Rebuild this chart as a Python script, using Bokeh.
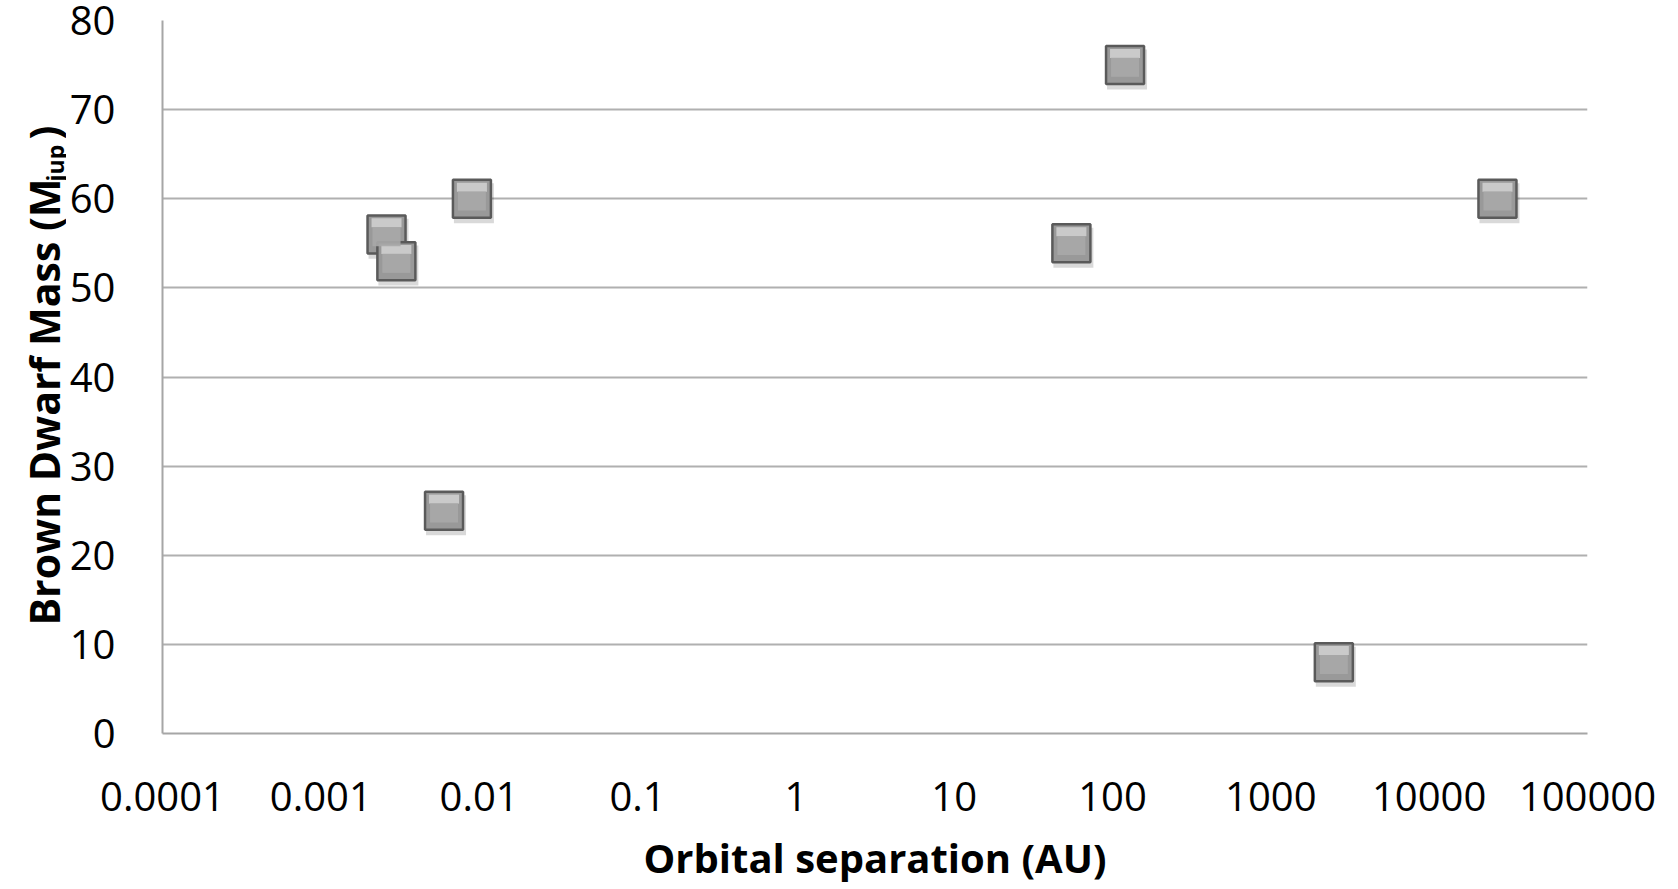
import math
from bokeh.plotting import figure
from bokeh.layouts import row
from bokeh.models import Range1d, FixedTicker, CustomJSTickFormatter, Label, ColumnDataSource
from bokeh.embed import file_html
from bokeh.resources import INLINE

# ---- data ----
separation_au = [0.0026, 0.003, 0.009, 0.006, 55, 120, 2500, 27000]
mass_mjup = [56, 53, 60, 25, 55, 75, 8, 60]

x_ticks = [1e-4, 1e-3, 1e-2, 1e-1, 1, 10, 100, 1000, 10000, 100000]
x_tick_labels = ["0.0001", "0.001", "0.01", "0.1", "1", "10", "100", "1000", "10000", "100000"]
y_ticks = [0, 10, 20, 30, 40, 50, 60, 70, 80]

x_title = "Orbital separation (AU)"
y_title_main = "Brown Dwarf Mass (M"
y_title_sub = "jup"
y_title_end = ")"

FONT = "Open Sans"
H = 889
TW = 66          # width of the y-title strip
TOP = 20         # frame top border
BOTTOM = 156     # frame bottom border

# ---- y-title strip (its frame is aligned with the main frame by the row layout) ----
t = figure(width=TW, height=H, x_range=Range1d(0, TW), y_range=Range1d(BOTTOM, H - TOP),
           output_backend="svg", toolbar_location=None, min_border=0,
           min_border_top=TOP, min_border_bottom=BOTTOM,
           x_axis_location=None, y_axis_location=None)
t.outline_line_color = None
t.xgrid.visible = False
t.ygrid.visible = False
t.add_layout(Label(x=43, y=H - 625, text=y_title_main, angle=math.pi / 2,
                   text_font=FONT, text_font_style="bold", text_font_size="41px",
                   text_color="black", text_align="left", text_baseline="alphabetic"))
t.add_layout(Label(x=54, y=H - 181, text=y_title_sub, angle=math.pi / 2,
                   text_font=FONT, text_font_style="bold", text_font_size="23px",
                   text_color="black", text_align="left", text_baseline="alphabetic"))
t.add_layout(Label(x=43, y=H - 139, text=y_title_end, angle=math.pi / 2,
                   text_font=FONT, text_font_style="bold", text_font_size="41px",
                   text_color="black", text_align="left", text_baseline="alphabetic"))

# ---- main chart ----
p = figure(width=1678 - TW, height=H, x_axis_type="log",
           x_range=Range1d(1e-4, 1e5), y_range=Range1d(0, 80),
           output_backend="svg", toolbar_location=None,
           min_border_left=162 - TW, min_border_right=91,
           min_border_top=TOP, min_border_bottom=BOTTOM)
p.outline_line_color = None
p.background_fill_color = "white"
p.border_fill_color = "white"

p.xgrid.grid_line_color = None
p.ygrid.grid_line_color = "#b0b0b0"
p.ygrid.grid_line_width = 2

p.yaxis.ticker = FixedTicker(ticks=y_ticks)
p.xaxis.ticker = FixedTicker(ticks=x_ticks, minor_ticks=[])
p.xaxis.formatter = CustomJSTickFormatter(
    args=dict(tvals=x_ticks, tlabs=x_tick_labels),
    code="""
    let best = 0, bd = 1e9;
    for (let i = 0; i < tvals.length; i++) {
        const d = Math.abs(Math.log10(tvals[i]) - Math.log10(tick));
        if (d < bd) { bd = d; best = i; }
    }
    return tlabs[best];
    """)
for ax in (p.xaxis[0], p.yaxis[0]):
    ax.axis_line_color = "#a6a6a6"
    ax.axis_line_width = 2
    ax.major_tick_line_color = None
    ax.minor_tick_line_color = None
    ax.major_tick_in = 0
    ax.major_tick_out = 0
    ax.major_label_text_font = FONT
    ax.major_label_text_font_size = "40px"
    ax.major_label_text_color = "black"

p.yaxis.major_label_standoff = 47
p.xaxis.major_label_standoff = 48

p.xaxis.axis_label = x_title
p.xaxis.axis_label_text_font = FONT
p.xaxis.axis_label_text_font_style = "bold"
p.xaxis.axis_label_text_font_size = "40px"
p.xaxis.axis_label_text_color = "black"
p.xaxis.axis_label_standoff = 16

# markers: shadow, body, bevel highlight
shadow_x = [v * 10 ** (2 / 158.3) for v in separation_au]
shadow_y = [v - 0.5 for v in mass_mjup]
p.scatter(shadow_x, shadow_y, marker="square", size=40,
          fill_color="black", fill_alpha=0.15, line_color=None)
src = ColumnDataSource(dict(x=separation_au, y=mass_mjup))
p.scatter("x", "y", source=src, marker="square", size=38,
          fill_color="#999999", line_color="#5a5a5a", line_width=2.5)
hl_y = [v + 1.3 for v in mass_mjup]
p.rect(separation_au, hl_y, width=30, height=9, width_units="screen", height_units="screen",
       fill_color="#d2d2d2", fill_alpha=0.85, line_color=None)
lo_y = [v - 0.25 for v in mass_mjup]
p.rect(separation_au, lo_y, width=28, height=19, width_units="screen", height_units="screen",
       fill_color="#a8a8a8", fill_alpha=0.9, line_color=None)

layout = row(t, p, spacing=0)
open("out.html", "w").write(file_html(layout, INLINE))
